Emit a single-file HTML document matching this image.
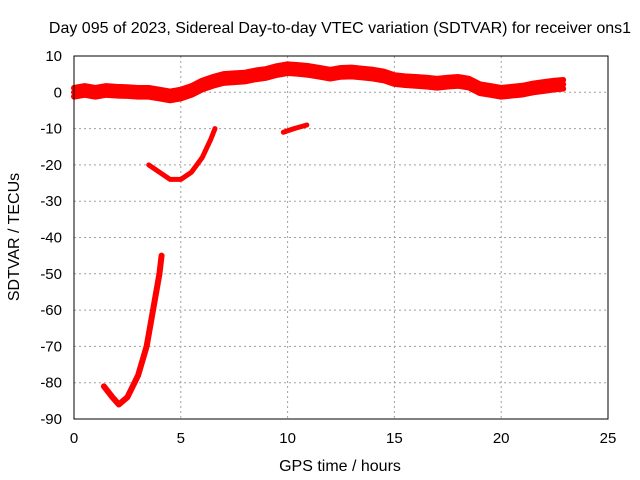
<!DOCTYPE html>
<html><head><meta charset="utf-8"><style>
body{margin:0;background:#fff;}
svg{display:block;font-family:"Liberation Sans",sans-serif;}
</style></head><body>
<svg id="chart" width="640" height="480">
<rect width="640" height="480" fill="#fff"/>
<text x="340" y="33" font-size="16" text-anchor="middle">Day 095 of 2023, Sidereal Day-to-day VTEC variation (SDTVAR) for receiver ons1</text>
<text x="340" y="471" font-size="16" text-anchor="middle">GPS time / hours</text>
<text x="19" y="237" font-size="16" text-anchor="middle" transform="rotate(-90 19 237)">SDTVAR / TECUs</text>
<g id="grid"></g><g id="ticks"></g><g id="series"></g>
<rect x="74" y="56" width="534" height="363" fill="none" stroke="#000"/>
</svg>
<script>
const xTicks=[0,5,10,15,20,25];
const yTicks=[10,0,-10,-20,-30,-40,-50,-60,-70,-80,-90];
const bandX=[0,0.5,1,1.5,2,2.5,3,3.5,4,4.5,5,5.5,6,6.5,7,7.5,8,8.5,9,9.5,10,10.5,11,11.5,12,12.5,13,13.5,14,14.5,15,15.5,16,16.5,17,17.5,18,18.5,19,19.5,20,20.5,21,21.5,22,22.5,22.9];
const bandY=[0,0.5,0,0.5,0.3,0.2,0,0,-0.5,-1,-0.5,0.5,2,3,3.8,4,4.2,4.8,5.2,6,6.5,6.3,6,5.5,5,5.5,5.6,5.3,5,4.5,3.5,3.2,3,2.8,2.5,2.8,3,2.5,1,0.5,0,0.3,0.6,1.2,1.6,2,2.2];
const seg2X=[3.5,4,4.5,5,5.5,6,6.4,6.6];
const seg2Y=[-20,-22,-24,-24,-22,-18,-13,-10];
const seg3X=[9.8,10.3,10.9];
const seg3Y=[-11,-10,-9];
const seg4X=[1.4,1.8,2.1,2.5,3,3.4,3.7,4,4.1];
const seg4Y=[-81,-84,-86,-84,-78,-70,-60,-50,-45];
const NS="http://www.w3.org/2000/svg";
const sx=v=>74+v*534/25, sy=v=>56+(10-v)*363/100;
const grid=document.getElementById('grid'),ticks=document.getElementById('ticks'),ser=document.getElementById('series');
function mk(tag,attrs,parent){const e=document.createElementNS(NS,tag);for(const k in attrs)e.setAttribute(k,attrs[k]);parent.appendChild(e);return e;}
xTicks.forEach(t=>{
 if(t>0&&t<25){const g=mk('line',{x1:sx(t),x2:sx(t),y1:56,y2:419,stroke:'#a0a0a0','stroke-dasharray':'2,3'},grid);
 
 }
 const l=mk('text',{x:sx(t),y:443,'font-size':15,'text-anchor':'middle'},ticks);l.textContent=t;
 
 
});
yTicks.forEach(t=>{
 if(t<10&&t>-90){const g=mk('line',{x1:74,x2:608,y1:sy(t),y2:sy(t),stroke:'#a0a0a0','stroke-dasharray':'2,3'},grid);
 
 }
 const l=mk('text',{x:62,y:sy(t)+5,'font-size':15,'text-anchor':'end'},ticks);l.textContent=t;
 
 
});
function seg(xs,ys,w,name){
 const p=mk('polyline',{points:xs.map((x,i)=>sx(x)+','+sy(ys[i])).join(' '),fill:'none',stroke:'#f00','stroke-width':w,'stroke-linejoin':'round','stroke-linecap':'round'},ser);
 
 
}
seg(bandX,bandY.map(v=>v+1.2),6,'main-band-upper');
seg(bandX,bandY.map(v=>v-1.2),6,'main-band-lower');
seg(bandX,bandY,6,'main-band');
seg(seg2X,seg2Y,5,'segment-afternoon-dip');
seg(seg3X,seg3Y,5,'segment-short');
seg(seg4X,seg4Y,6,'segment-deep-dip');
</script>
</body></html>
